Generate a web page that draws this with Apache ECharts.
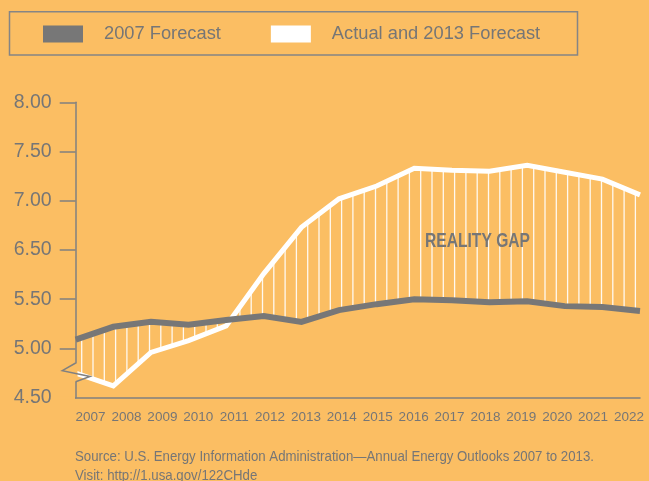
<!DOCTYPE html>
<html>
<head>
<meta charset="utf-8">
<script src="https://cdn.jsdelivr.net/npm/echarts@6/dist/echarts.min.js"></script>
<style>
  html, body { margin: 0; padding: 0; background: #fbbe63; }
  #main { width: 649px; height: 481px; }
</style>
</head>
<body>
<div id="main"></div>
<script>
// years on the x axis
const years = ['2007', '2008', '2009', '2010', '2011', '2012', '2013', '2014',
  '2015', '2016', '2017', '2018', '2019', '2020', '2021', '2022']
// the printed axis skips 6.00, so ticks are evenly spaced but labelled like this
const yTickLabels = ['4.50', '5.00', '5.50', '6.50', '7.00', '7.50', '8.00']
// values in the evenly spaced axis units (4.5 .. 7.5, one step = one printed tick)
const forecast2007 = [5.09, 5.22, 5.27, 5.24, 5.29, 5.33, 5.27, 5.39, 5.45, 5.50, 5.49, 5.47, 5.48, 5.43, 5.42, 5.38]
const actual2013 = [4.75, 4.62, 4.96, 5.08, 5.23, 5.76, 6.23, 6.52, 6.65, 6.83, 6.81, 6.80, 6.86, 6.79, 6.72, 6.56]

const BG = '#fbbe63'
const GREY = '#777777'
const TEXT = '#767676'
const SANS = "'Liberation Sans', Arial, sans-serif"
const HATCH_STEP = 11.3

const SOURCE_1 = 'Source: U.S. Energy Information Administration\u2014Annual Energy Outlooks 2007 to 2013.'
const SOURCE_2 = 'Visit: http://1.usa.gov/122CHde'

// the original type is condensed, squeeze free text to its printed width
function squeeze(text, font, width) {
  const ctx = document.createElement('canvas').getContext('2d')
  ctx.font = font + " 'Liberation Sans', Arial, sans-serif"
  return width / ctx.measureText(text).width
}

// vertical hatching between the two lines
function renderGap(params, api) {
  const i = params.dataIndex
  if (i >= years.length - 1) return
  const g0 = api.coord([i, forecast2007[i]])
  const g1 = api.coord([i + 1, forecast2007[i + 1]])
  const w0 = api.coord([i, actual2013[i]])
  const w1 = api.coord([i + 1, actual2013[i + 1]])
  const start = params.coordSys.x + 6
  const children = []
  let k = Math.ceil((g0[0] - start) / HATCH_STEP)
  for (let x = start + k * HATCH_STEP; x < g1[0]; x += HATCH_STEP) {
    const t = (x - g0[0]) / (g1[0] - g0[0])
    const gy = g0[1] + t * (g1[1] - g0[1])
    const wy = w0[1] + t * (w1[1] - w0[1])
    children.push({
      type: 'line',
      shape: { x1: x, y1: gy, x2: x, y2: wy },
      style: { stroke: '#ffffff', lineWidth: 1.3, opacity: 0.9 }
    })
  }
  return { type: 'group', children: children }
}

const myChart = echarts.init(document.getElementById('main'))
const option = {
  backgroundColor: BG,
  animation: false,
  legend: {
    data: ['2007 Forecast', 'Actual and 2013 Forecast'],
    left: 43,
    top: 25,
    padding: 0,
    icon: 'rect',
    itemWidth: 40,
    itemHeight: 17,
    itemGap: 50,
    itemStyle: { borderWidth: 0 },
    textStyle: {
      color: TEXT, fontSize: 18.3, fontFamily: SANS,
      lineHeight: 17, padding: [0, 0, 0, 16]
    }
  },
  grid: [
    { left: 75.7, top: 102.3, right: 9, bottom: 83.3 },
    { left: 90.6, top: 102.3, right: 20, bottom: 83.3 }
  ],
  xAxis: [
    {
      type: 'category', data: years, boundaryGap: false, gridIndex: 0,
      axisLine: { lineStyle: { color: '#808080', width: 1.5 } },
      axisTick: { show: false },
      axisLabel: { show: false }
    },
    {
      type: 'category', data: years, boundaryGap: false, gridIndex: 1,
      axisLine: { show: false },
      axisTick: { show: false },
      axisLabel: {
        interval: 0, color: TEXT, fontSize: 13.5, fontFamily: SANS, margin: 13
      }
    }
  ],
  yAxis: [
    {
      type: 'value', min: 4.5, max: 7.5, interval: 0.5, gridIndex: 0,
      splitLine: { show: false },
      axisLine: { show: true, lineStyle: { color: '#808080', width: 1.5 } },
      axisTick: { show: true, length: 16, lineStyle: { color: '#808080', width: 1.5 } },
      axisLabel: {
        color: TEXT, fontSize: 19.5, fontFamily: SANS,
        margin: 24, padding: [0, 0, 14, 0],
        formatter: (v) => yTickLabels[Math.round((v - 4.5) / 0.5)]
      }
    },
    { type: 'value', gridIndex: 1, show: false }
  ],
  graphic: [
    // legend frame
    {
      type: 'rect',
      shape: { x: 9.5, y: 11.7, width: 568, height: 43.3 },
      style: { fill: 'none', stroke: '#858585', lineWidth: 1.5 }
    },
    // hide the tick at 4.50 and the axis line behind the break
    { type: 'rect', shape: { x: 57, y: 396.5, width: 18, height: 3 }, style: { fill: BG }, z: 50 },
    { type: 'rect', shape: { x: 74, y: 363.5, width: 3.5, height: 18 }, style: { fill: BG }, z: 50 },
    {
      type: 'polyline', z: 51,
      shape: { points: [[75.7, 363], [62.3, 370.7], [90, 376.5], [75.7, 381.7]] },
      style: { fill: 'none', stroke: '#808080', lineWidth: 1.5 }
    },
    {
      type: 'text', x: 477.5, y: 241.5, z: 60,
      scaleX: squeeze('REALITY GAP', 'bold 20.5px', 105),
      style: {
        text: 'REALITY GAP', fill: TEXT, fontSize: 20.5, fontWeight: 'bold',
        fontFamily: SANS, align: 'center', verticalAlign: 'middle'
      }
    },
    {
      type: 'text', x: 75, y: 447, z: 60,
      scaleX: squeeze(SOURCE_1, '14.5px', 519),
      style: {
        text: SOURCE_1 + '\n' + SOURCE_2,
        fill: TEXT, fontSize: 14.5, lineHeight: 19, fontFamily: SANS,
        align: 'left', verticalAlign: 'top'
      }
    }
  ],
  series: [
    {
      type: 'custom',
      xAxisIndex: 0, yAxisIndex: 0,
      z: 1,
      silent: true,
      renderItem: renderGap,
      encode: { x: 0, y: [1, 2] },
      data: years.map((y, i) => [i, forecast2007[i], actual2013[i]])
    },
    {
      name: 'Actual and 2013 Forecast',
      type: 'line',
      xAxisIndex: 0, yAxisIndex: 0,
      z: 3,
      data: actual2013,
      color: '#ffffff',
      itemStyle: { color: '#ffffff' },
      symbol: 'none',
      lineStyle: { color: '#ffffff', width: 5, join: 'miter' }
    },
    {
      name: '2007 Forecast',
      type: 'line',
      xAxisIndex: 0, yAxisIndex: 0,
      z: 4,
      data: forecast2007,
      color: GREY,
      itemStyle: { color: GREY },
      symbol: 'none',
      lineStyle: { color: GREY, width: 6, join: 'miter' }
    }
  ]
}
myChart.setOption(option, true)
</script>
</body>
</html>
